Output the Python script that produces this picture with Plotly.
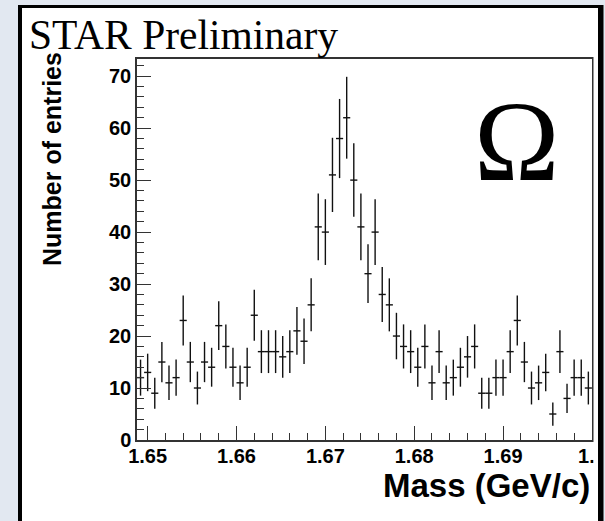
import numpy as np
import plotly.graph_objects as go

# Histogram binning (GeV/c^2)
BIN_LO = 1.6488
BIN_WIDTH = 0.0008

# Entries per bin
counts = [
    12, 13, 9, 15, 11, 12, 23, 15, 10, 15, 14, 22, 18, 14, 11, 14, 24, 17, 17, 17,
    16, 17, 21, 19, 26, 41, 40, 51, 58, 62, 50, 41, 32, 40, 28, 26, 20, 18, 17, 14,
    18, 11, 17, 11, 12, 14, 16, 18, 9, 9, 12, 12, 17, 23, 15, 10, 11, 13, 5, 17,
    8, 12, 12, 10,
]

x_tick_vals = [1.65, 1.66, 1.67, 1.68, 1.69, 1.70]
x_tick_text = ["1.65", "1.66", "1.67", "1.68", "1.69", "1.7"]
y_tick_vals = [0, 10, 20, 30, 40, 50, 60, 70]
y_tick_text = ["0", "10", "20", "30", "40", "50", "60", "70"]

X_RANGE = [BIN_LO, 1.70001]
Y_RANGE = [0, 73.3]

counts_arr = np.array(counts, dtype=float)
centers = BIN_LO + (np.arange(len(counts)) + 0.5) * BIN_WIDTH
errors = np.sqrt(counts_arr)

W, H = 605, 521
L, R, T, B = 137, 13, 59, 81
PW, PH = W - L - R, H - T - B


def px(x):
    return (x - L) / PW


def py(y):
    return (H - B - y) / PH


SANS = "Liberation Sans, Arial, Helvetica, sans-serif"
SERIF = "Liberation Serif, Times New Roman, Times, serif"
INK = "#111111"

fig = go.Figure()
fig.add_trace(go.Scatter(
    x=centers,
    y=counts_arr,
    mode="markers",
    marker=dict(size=1, color="rgba(0,0,0,0)"),
    error_y=dict(type="data", array=errors, visible=True, width=0,
                 thickness=1.4, color=INK),
    error_x=dict(type="constant", value=BIN_WIDTH / 2, visible=True, width=0,
                 thickness=1.4, color=INK),
    hoverinfo="x+y",
    showlegend=False,
))

axis_common = dict(
    showgrid=False, zeroline=False, showline=True, linecolor="#333333",
    linewidth=1.5, mirror=True, ticks="inside", ticklen=14, tickwidth=1.2,
    tickcolor="#333333", automargin=False, ticklabeloverflow="allow",
    tickfont=dict(family=SANS, size=20, color="black", weight="bold"),
)

fig.update_xaxes(
    range=X_RANGE, tickmode="array", tickvals=x_tick_vals, ticktext=x_tick_text,
    minor=dict(ticks="inside", ticklen=7, tickwidth=1.2, tickcolor="#333333",
               dtick=0.002, tick0=1.65),
    ticklabelstandoff=-3,
    **axis_common,
)
fig.update_yaxes(
    range=Y_RANGE, tickmode="array", tickvals=y_tick_vals, ticktext=y_tick_text,
    minor=dict(ticks="inside", ticklen=7, tickwidth=1.2, tickcolor="#333333",
               dtick=2, tick0=0),
    **axis_common,
)


def add_box(x0, x1, y0, y1, color, layer):
    fig.add_shape(type="rect", xref="paper", yref="paper",
                  x0=px(x0), x1=px(x1), y0=py(y1), y1=py(y0),
                  fillcolor=color, line=dict(width=0), layer=layer)


bg = "#e2e8f1"
# backdrop around the canvas
add_box(0, 18, 0, H, bg, "below")
add_box(0, W, 0, 5, bg, "below")
add_box(603, W, 0, H, bg, "above")
# canvas edge clips the last tick label
add_box(593.5, 598, 8, H, "white", "above")
# black canvas frame
add_box(18, 22, 5, H, "black", "above")
add_box(18, 603, 5, 8, "black", "above")
add_box(598, 603.5, 5, H, "black", "above")

annotations = [
    dict(text="STAR Preliminary", x=px(27), y=py(35), xref="paper", yref="paper",
         xanchor="left", yanchor="middle", showarrow=False,
         font=dict(family=SERIF, size=41.5, color="black")),
    dict(text="Ω", x=px(516), y=py(141), xref="paper", yref="paper",
         xanchor="center", yanchor="middle", showarrow=False,
         font=dict(family=SERIF, size=115, color="black")),
    dict(text="Number of entries", x=px(52), y=py(159), xref="paper", yref="paper",
         xanchor="center", yanchor="middle", showarrow=False, textangle=-90,
         font=dict(family=SANS, size=25, color="black", weight="bold")),
    dict(text="Mass (GeV/c)", x=px(592), y=py(485), xref="paper", yref="paper",
         xanchor="right", yanchor="middle", showarrow=False,
         font=dict(family=SANS, size=33, color="black", weight="bold")),
]

fig.update_layout(
    width=W, height=H,
    margin=dict(l=L, r=R, t=T, b=B, pad=0),
    paper_bgcolor="white", plot_bgcolor="white",
    annotations=annotations,
    showlegend=False,
)

fig.write_html("out.html")
